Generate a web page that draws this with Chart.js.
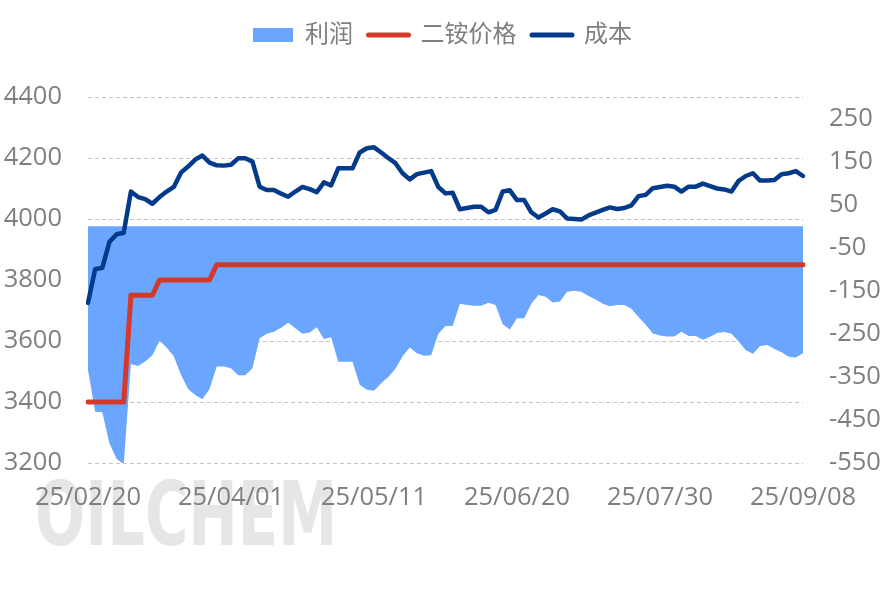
<!DOCTYPE html>
<html>
<head>
<meta charset="utf-8">
<script src="https://cdn.jsdelivr.net/npm/chart.js@4.4.1/dist/chart.umd.min.js"></script>
<style>
html,body{margin:0;padding:0;background:#fff;}
#wrap{width:887px;height:591px;position:relative;}
</style>
</head>
<body>
<div id="wrap"><canvas id="c" width="887" height="591"></canvas></div>
<script>
// Categories: every second day from 2025-02-20 to 2025-09-08
const categories = [
 '25/02/20','25/02/22','25/02/24','25/02/26','25/02/28',
 '25/03/02','25/03/04','25/03/06','25/03/08','25/03/10','25/03/12','25/03/14','25/03/16','25/03/18','25/03/20','25/03/22','25/03/24','25/03/26','25/03/28','25/03/30',
 '25/04/01','25/04/03','25/04/05','25/04/07','25/04/09','25/04/11','25/04/13','25/04/15','25/04/17','25/04/19','25/04/21','25/04/23','25/04/25','25/04/27','25/04/29',
 '25/05/01','25/05/03','25/05/05','25/05/07','25/05/09','25/05/11','25/05/13','25/05/15','25/05/17','25/05/19','25/05/21','25/05/23','25/05/25','25/05/27','25/05/29','25/05/31',
 '25/06/02','25/06/04','25/06/06','25/06/08','25/06/10','25/06/12','25/06/14','25/06/16','25/06/18','25/06/20','25/06/22','25/06/24','25/06/26','25/06/28','25/06/30',
 '25/07/02','25/07/04','25/07/06','25/07/08','25/07/10','25/07/12','25/07/14','25/07/16','25/07/18','25/07/20','25/07/22','25/07/24','25/07/26','25/07/28','25/07/30',
 '25/08/01','25/08/03','25/08/05','25/08/07','25/08/09','25/08/11','25/08/13','25/08/15','25/08/17','25/08/19','25/08/21','25/08/23','25/08/25','25/08/27','25/08/29','25/08/31',
 '25/09/02','25/09/04','25/09/06','25/09/08'
];
const tickLabels = ['25/02/20','25/04/01','25/05/11','25/06/20','25/07/30','25/09/08'];

// 利润 (right axis)
const profit = [
 -334,-431,-432,-505,-540,-553,-320,-325,-314,-300,
 -266,-282,-302,-345,-378,-392,-402,-378,-326,-326,
 -330,-346,-346,-330,-260,-250,-245,-236,-224,-237,
 -250,-247,-235,-262,-258,-315,-315,-315,-368,-380,
 -382,-365,-350,-331,-302,-282,-295,-301,-300,-250,
 -232,-232,-180,-183,-185,-185,-178,-183,-228,-240,
 -214,-214,-180,-160,-164,-177,-175,-152,-150,-152,
 -162,-170,-180,-186,-183,-183,-192,-211,-229,-249,
 -254,-256,-256,-245,-255,-255,-264,-257,-248,-246,
 -250,-268,-288,-296,-278,-276,-285,-293,-303,-305,
 -295
];
// 二铵价格 (left axis)
const price = [
 3400,3400,3400,3400,3400,3400,3750,3750,3750,3750,
 3800,3800,3800,3800,3800,3800,3800,3800,3850,3850,
 3850,3850,3850,3850,3850,3850,3850,3850,3850,3850,
 3850,3850,3850,3850,3850,3850,3850,3850,3850,3850,
 3850,3850,3850,3850,3850,3850,3850,3850,3850,3850,
 3850,3850,3850,3850,3850,3850,3850,3850,3850,3850,
 3850,3850,3850,3850,3850,3850,3850,3850,3850,3850,
 3850,3850,3850,3850,3850,3850,3850,3850,3850,3850,
 3850,3850,3850,3850,3850,3850,3850,3850,3850,3850,
 3850,3850,3850,3850,3850,3850,3850,3850,3850,3850,
 3850
];
// 成本 (left axis)
const cost = [
 3725,3835,3840,3925,3950,3955,4090,4072,4065,4050,
 4072,4090,4105,4152,4172,4195,4208,4185,4176,4175,
 4178,4199,4199,4188,4106,4095,4095,4083,4073,4090,
 4105,4098,4088,4120,4110,4166,4166,4166,4218,4232,
 4235,4218,4200,4183,4150,4130,4147,4152,4157,4105,
 4084,4086,4032,4036,4040,4040,4022,4030,4090,4094,
 4062,4062,4022,4005,4018,4032,4025,4002,4000,3998,
 4012,4021,4030,4038,4033,4036,4045,4075,4079,4101,
 4105,4109,4106,4090,4106,4106,4116,4108,4100,4097,
 4090,4125,4141,4150,4126,4126,4128,4147,4150,4157,
 4141
];
const rightTicks = [250,150,50,-50,-150,-250,-350,-450,-550];

const FONT = "'Open Sans','Noto Sans CJK SC',sans-serif";
const GRAY = '#7f7f7f';
const AREA = '#6aa6ff';
const RED = '#d43a2a';
const NAVY = '#033b8a';

const watermark = {
  id: 'watermark',
  beforeDraw(chart) {
    const ctx = chart.ctx;
    ctx.save();
    ctx.font = "bold 89px 'DejaVu Sans Condensed','DejaVu Sans',sans-serif";
    ctx.textBaseline = 'alphabetic';
    const text = 'OILCHEM';
    const w = ctx.measureText(text).width;
    const sx = 302 / w;
    const g = ctx.createLinearGradient(0, 480, 0, 546);
    g.addColorStop(0, '#e6e6e6');
    g.addColorStop(1, '#fdfdfd');
    ctx.fillStyle = g;
    ctx.translate(35, 545);
    ctx.scale(sx, 1);
    ctx.fillText(text, 0, 0);
    ctx.restore();
  }
};

const legendGap = {
  id: 'legendGap',
  beforeInit(chart) {
    const origFit = chart.legend.fit;
    chart.legend.fit = function () {
      origFit.bind(chart.legend)();
      this.height += 40;
    };
  }
};

new Chart(document.getElementById('c'), {
  type: 'line',
  data: {
    labels: categories,
    datasets: [
      {
        label: '利润', data: profit, yAxisID: 'y1', order: 3,
        fill: 'origin', backgroundColor: AREA, borderWidth: 0, borderColor: AREA,
        pointRadius: 0, tension: 0
      },
      {
        label: '二铵价格', data: price, yAxisID: 'y', order: 2,
        fill: false, borderColor: RED, backgroundColor: RED, borderWidth: 5,
        pointRadius: 0, tension: 0, borderJoinStyle: 'round', borderCapStyle: 'round'
      },
      {
        label: '成本', data: cost, yAxisID: 'y', order: 1,
        fill: false, borderColor: NAVY, backgroundColor: NAVY, borderWidth: 4.5,
        pointRadius: 0, tension: 0, borderJoinStyle: 'round', borderCapStyle: 'round'
      }
    ]
  },
  options: {
    responsive: false,
    animation: false,
    layout: { padding: { top: 7.5, left: 4, right: 6, bottom: 78 } },
    plugins: {
      tooltip: { enabled: false },
      legend: {
        position: 'top',
        labels: {
          font: { family: FONT, size: 24 },
          color: GRAY,
          usePointStyle: true,
          pointStyleWidth: 40,
          boxWidth: 40,
          boxHeight: 14,
          padding: 15.5,
          sort: (a, b) => a.datasetIndex - b.datasetIndex,
          generateLabels(chart) {
            const items = Chart.defaults.plugins.legend.labels.generateLabels(chart);
            items.forEach(it => {
              const ds = chart.data.datasets[it.datasetIndex];
              if (ds.fill) {
                it.pointStyle = 'rect'; it.lineWidth = 0; it.fillStyle = AREA; it.strokeStyle = AREA;
              } else {
                it.pointStyle = 'line'; it.strokeStyle = ds.borderColor; it.lineWidth = 5; it.lineCap = 'round';
              }
            });
            return items;
          }
        }
      }
    },
    scales: {
      x: {
        type: 'category',
        offset: false,
        grid: { display: false, drawTicks: false },
        border: { display: false },
        afterFit(scale) { scale.height = 50; },
        ticks: {
          autoSkip: false, maxRotation: 0, minRotation: 0, padding: 19,
          font: { family: FONT, size: 25.5 }, color: GRAY,
          callback(val) {
            const l = this.getLabelForValue(val);
            return tickLabels.includes(l) ? l : '';
          }
        }
      },
      y: {
        position: 'left', min: 3200, max: 4400,
        grid: { color: '#c4c4c4', lineWidth: 1, drawTicks: false, borderDash: [4, 3] },
        border: { display: false, dash: [4, 3] },
        afterFit(scale) { scale.width = 84; },
        ticks: { stepSize: 200, padding: 26, font: { family: FONT, size: 25.5 }, color: GRAY,
          callback: v => String(v) }
      },
      y1: {
        position: 'right', min: -550, max: 300,
        grid: { display: false, drawTicks: false },
        border: { display: false },
        afterFit(scale) { scale.width = 78; },
        afterBuildTicks(scale) { scale.ticks = rightTicks.map(v => ({ value: v })); },
        ticks: { padding: 26, font: { family: FONT, size: 25.5 }, color: GRAY,
          callback: v => String(v) }
      }
    }
  },
  plugins: [watermark, legendGap]
});
</script>
</body>
</html>
